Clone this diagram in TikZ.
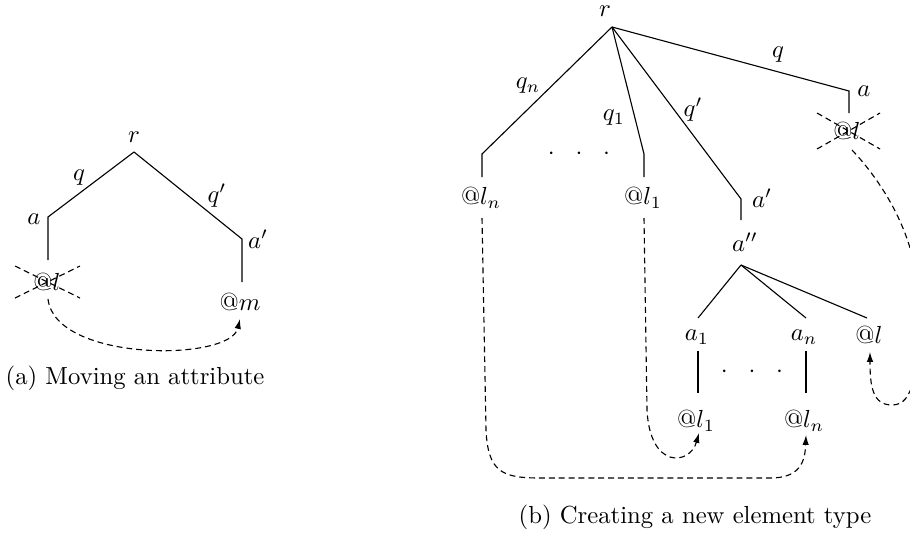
\documentclass[tikz,border=0pt]{standalone}
\usetikzlibrary{arrows.meta}
\begin{document}
\begin{tikzpicture}[x=0.405pt,y=-0.405pt,
  lab/.style={inner sep=0pt},
  tree/.style={line width=0.45pt},
  dsh/.style={line width=0.45pt,dash pattern=on 2.4pt off 1.6pt},
  arr/.style={dsh,-{Latex[length=4pt,width=2.6pt]}}]
\useasboundingbox (0,0) rectangle (910,539);
\clip (0,0) rectangle (910,539);
% ---------------- (a) ----------------
\node[lab] (ra) at (134,137) {$r$};
\coordinate (ta) at (134,152);
\coordinate (ca) at (48,217);
\coordinate (ea) at (48,260);
\coordinate (cb) at (242,239);
\coordinate (eb) at (242,282);
\node[lab] (qa) at (79,178) {$q$};
\node[lab] (qpa) at (217,196) {$q'$};
\node[lab] (aa) at (34,219) {$a$};
\node[lab] (apa) at (258,239) {$a'$};
\node[lab] (la) at (47,282) {@$l$};
\node[lab] (ma) at (240,302) {@$m$};
\draw[tree] (ta) -- (ca) -- (ea);
\draw[tree] (ta) -- (cb) -- (eb);
\coordinate (xa1) at (15,266); \coordinate (xa2) at (80,298);
\coordinate (xa3) at (15,298); \coordinate (xa4) at (80,266);
\draw[dsh] (xa1) -- (xa2);
\draw[dsh] (xa3) -- (xa4);
\coordinate (sa) at (48,299);
\coordinate (tipa) at (240,319);
\draw[arr] (sa) .. controls (55,362) and (230,362) .. (tipa);
\node[lab] (capa) at (135,378) {(a) Moving an attribute};
% ---------------- (b) ----------------
\node[lab] (rb) at (605,11) {$r$};
\coordinate (tb) at (612,27);
\coordinate (c1) at (482,154); \coordinate (e1) at (482,177);
\coordinate (c2) at (644,154); \coordinate (e2) at (644,177);
\coordinate (c3) at (741,199); \coordinate (e3) at (741,220);
\coordinate (c4) at (849,91);  \coordinate (e4) at (849,113);
\draw[tree] (tb) -- (c1) -- (e1);
\draw[tree] (tb) -- (c2) -- (e2);
\draw[tree] (tb) -- (c3) -- (e3);
\draw[tree] (tb) -- (c4) -- (e4);
\node[lab] (qn) at (528,86) {$q_n$};
\node[lab] (q1) at (614,118) {$q_1$};
\node[lab] (qp) at (693,110) {$q'$};
\node[lab] (qb) at (778,55) {$q$};
\node[lab] (ab) at (864,91) {$a$};
\node[lab] (apb) at (762,198) {$a'$};
\node[lab] (dots1) at (579,154) {$\cdot\hspace{6.2pt}\cdot\hspace{6.2pt}\cdot$};
\node[lab] (ln) at (481,198) {@$l_n$};
\node[lab] (l1) at (643,198) {@$l_1$};
\node[lab] (lb) at (847,131) {@$l$};
\coordinate (xb1) at (817,113); \coordinate (xb2) at (880,149);
\coordinate (xb3) at (817,149); \coordinate (xb4) at (880,113);
\draw[dsh] (xb1) -- (xb2);
\draw[dsh] (xb3) -- (xb4);
% subtree a''
\node[lab] (app) at (745,242) {$a''$};
\coordinate (ta2) at (741,265);
\coordinate (s1) at (698,318);
\coordinate (s2) at (806,318);
\coordinate (s3) at (867,318);
\draw[tree] (ta2) -- (s1);
\draw[tree] (ta2) -- (s2);
\draw[tree] (ta2) -- (s3);
\node[lab] (a1) at (697,337) {$a_1$};
\node[lab] (an) at (804,337) {$a_n$};
\node[lab] (lnew) at (869,335) {@$l$};
\coordinate (v1a) at (698,351); \coordinate (v1b) at (698,393);
\coordinate (v2a) at (806,351); \coordinate (v2b) at (806,393);
\draw[tree] (v1a) -- (v1b);
\draw[tree] (v2a) -- (v2b);
\node[lab] (dots2) at (752,372) {$\cdot\hspace{6.2pt}\cdot\hspace{6.2pt}\cdot$};
\node[lab] (l1b) at (696,421) {@$l_1$};
\node[lab] (lnb) at (804,421) {@$l_n$};
% dashed moves
\coordinate (d1s) at (644,218);
\coordinate (d1t) at (699,433);
\draw[arr] (d1s) -- (647,410) .. controls (650,470) and (690,465) .. (d1t);
\coordinate (d2s) at (482,218);
\coordinate (d2t) at (806,435);
\draw[arr] (d2s) -- (486,430) .. controls (488,472) and (502,478) .. (540,478) -- (770,478) .. controls (800,478) and (805,462) .. (d2t);
\coordinate (d3s) at (852,150);
\coordinate (d3t) at (870,352);
\draw[arr] (d3s) .. controls (885,185) and (918,240) .. (918,300) .. controls (918,370) and (915,405) .. (892,405) .. controls (872,405) and (870,385) .. (d3t);
\node[lab] (capb) at (695,517) {(b) Creating a new element type};
\end{tikzpicture}
\end{document}
